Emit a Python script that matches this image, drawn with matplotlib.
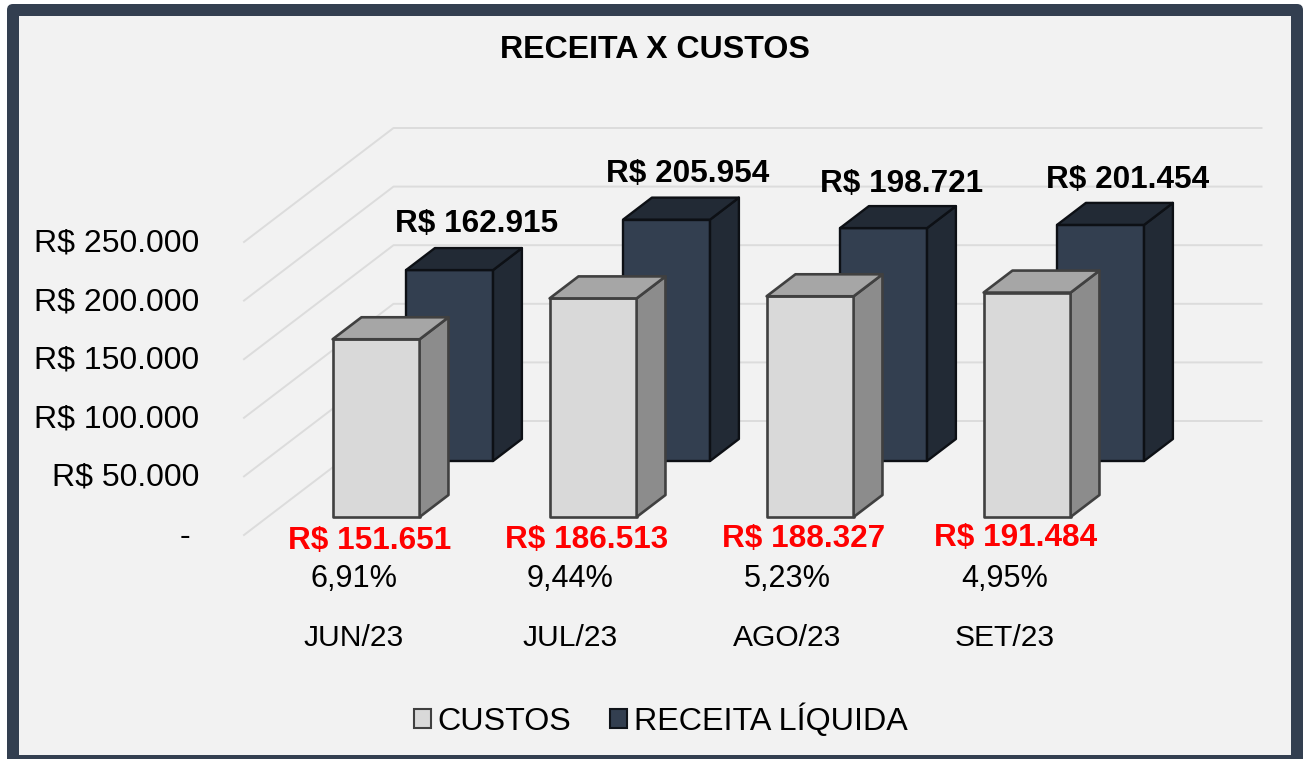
import matplotlib
matplotlib.use("Agg")
import matplotlib.pyplot as plt
from matplotlib.patches import Patch, Polygon, Rectangle, FancyBboxPatch
from matplotlib.transforms import Affine2D, blended_transform_factory

plt.rcParams['font.family'] = ['Liberation Sans', 'DejaVu Sans']

months = ["JUN/23", "JUL/23", "AGO/23", "SET/23"]
custos = [151651, 186513, 188327, 191484]
receita = [162915, 205954, 198721, 201454]
percents = [6.91, 9.44, 5.23, 4.95]
ticks = [0, 50000, 100000, 150000, 200000, 250000]

W, H = 1308, 759
# pixels of the oblique 3d look
px_cat = 217.0
px_per_value = 58.6 / 50000
x0_px = 352.5
floor_px = 535.0
wall_dx = 149.5 / px_cat
wall_dv = 114.0 / px_per_value
bar_w = 87.0 / px_cat

fig = plt.figure(figsize=(W / 100, H / 100), dpi=100)
ax = fig.add_axes([0, 0, 1, 1])
ax.set_xlim(-x0_px / px_cat, (W - x0_px) / px_cat)
ax.set_ylim(-(H - floor_px) / px_per_value, floor_px / px_per_value)
ax.axis("off")

# pixel coordinates, origin top left
px = Affine2D().scale(1, -1).translate(0, H)


def brl(v):
    return "R$ " + f"{v:,}".replace(",", ".")


def proj(x, v, d):
    return (x + d * wall_dx, v + d * wall_dv)


def bar3d(cat, value, d0, d1, front, side, top, edge, lw, z):
    l = cat - bar_w / 2
    r = cat + bar_w / 2
    faces = [
        ([proj(l, 0, d0), proj(r, 0, d0), proj(r, value, d0), proj(l, value, d0)], front),
        ([proj(r, 0, d0), proj(r, 0, d1), proj(r, value, d1), proj(r, value, d0)], side),
        ([proj(l, value, d0), proj(r, value, d0), proj(r, value, d1), proj(l, value, d1)], top),
    ]
    for pts, color in faces:
        ax.add_patch(Polygon(pts, closed=True, facecolor=color, edgecolor=edge,
                             linewidth=lw, joinstyle="round", zorder=z))


# frame
ax.add_patch(FancyBboxPatch((10, 7), 1290, 760, boxstyle="round,pad=3,rounding_size=6",
                            facecolor="#333f50", edgecolor="none", transform=px,
                            clip_on=True, zorder=-3))
ax.add_patch(Rectangle((19, 16), 1272, 739, facecolor="#f2f2f2", edgecolor="none",
                       transform=px, zorder=-2))

# walls
for t in ticks:
    a = proj(-0.5, t, 0)
    b = proj(-0.5, t, 1)
    c = proj(3.5, t, 1)
    ax.plot([a[0], b[0], c[0]], [a[1], b[1], c[1]], color="#dcdcdc", lw=1.4, zorder=0)

for i, v in enumerate(receita):
    bar3d(i, v, 74 / 114, 96 / 114, "#333f50", "#222a35", "#222a35", "#0d1015", 1.7, 2)
for i, v in enumerate(custos):
    bar3d(i, v, 18 / 114, 40 / 114, "#d9d9d9", "#8c8c8c", "#a6a6a6", "#404040", 1.9, 3)

fs = 23.0
tick_tr = blended_transform_factory(px, ax.transData)
for t in ticks:
    label = brl(t) if t else "-"
    # screen y of the labels sits a touch under the wall lines
    ax.text(199 if t else 190, t - 1.5 / px_per_value, label, transform=tick_tr,
            ha="right", va="center", fontsize=fs, color="#000000")

ax.text(654.5, 50, "RECEITA X CUSTOS", transform=px, ha="center", va="center",
        fontsize=fs + 0.1, fontweight="bold", color="#000000")

# these labels were placed by hand in the original
receita_pos = [(477, 224), (688, 174), (902, 184), (1128, 180)]
custos_pos = [(370, 541), (587, 540), (804, 539), (1016, 538)]
for v, pos in zip(receita, receita_pos):
    ax.text(pos[0], pos[1], brl(v), transform=px, ha="center", va="center",
            fontsize=fs - 0.3, fontweight="bold", color="#000000", zorder=5)
for v, pos in zip(custos, custos_pos):
    ax.text(pos[0], pos[1], brl(v), transform=px, ha="center", va="center",
            fontsize=fs - 0.3, fontweight="bold", color="#ff0000", zorder=5)
for i, (p, m) in enumerate(zip(percents, months)):
    xc = x0_px + px_cat * i + 1
    ax.text(xc, 579, f"{p:.2f}%".replace(".", ","), transform=px, ha="center", va="center",
            fontsize=fs - 0.9, color="#000000")
    ax.text(xc, 638, m, transform=px, ha="center", va="center",
            fontsize=fs - 1.4, color="#000000")

handles = [Patch(facecolor="#d9d9d9", edgecolor="#404040", linewidth=1.5, label="CUSTOS"),
           Patch(facecolor="#333f50", edgecolor="#10141a", linewidth=1.5, label="RECEITA LÍQUIDA")]
fig.legend(handles=handles, loc="center", bbox_to_anchor=(660.5 / W, 1 - 720 / H), ncol=2,
           frameon=False, fontsize=fs + 0.2, handlelength=0.53, handleheight=0.53,
           handletextpad=0.2, columnspacing=1.22, borderpad=0, labelcolor="#000000")

fig.savefig("out.png", dpi=100, facecolor="white")
